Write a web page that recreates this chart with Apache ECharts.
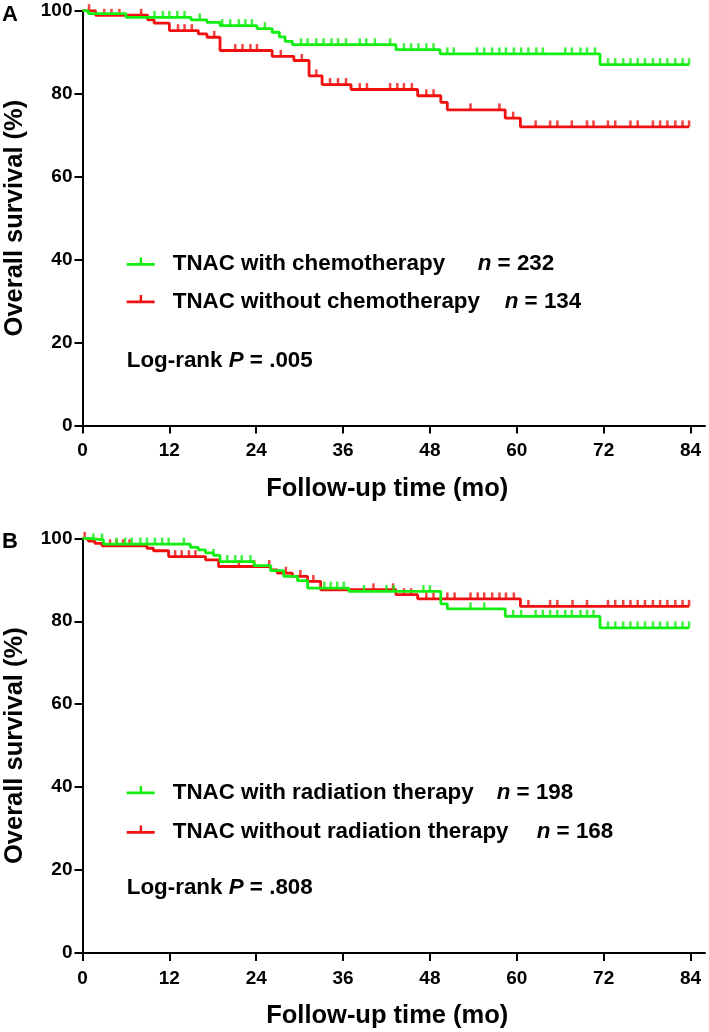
<!DOCTYPE html>
<html><head><meta charset="utf-8">
<script src="https://cdn.jsdelivr.net/npm/echarts@6/dist/echarts.min.js"></script>
<style>html,body{margin:0;padding:0;background:#fff}#c{width:709px;height:1032px}</style>
</head><body><div id="c"></div>
<script>
// ---------- axes ----------
const xTickValues = [0, 12, 24, 36, 48, 60, 72, 84];
const yTickValues = [0, 20, 40, 60, 80, 100];
const xAxisMax = 86;
const xAxisTitle = 'Follow-up time (mo)';
const yAxisTitle = 'Overall survival (%)';
const panelLabels = ['A', 'B'];

// ---------- panel A ----------
const aGreenName = 'TNAC with chemotherapy';
const aGreenN = 232;
const aGreenTimes = [0, 0.8, 6, 15, 17.2, 19, 24.1, 26.2, 27.2, 28, 29, 43.3, 49.4, 71.5];
const aGreenSurv  = [100, 99.3, 98.4, 97.8, 97.2, 96.4, 95.7, 94.8, 93.7, 92.6, 91.8, 90.6, 89.6, 87.0];
const aGreenCensor = [9.95, 11.1, 12.0, 13.1, 14.1, 16.2, 19.3, 20.4, 21.6, 22.5, 23.4, 25.2, 30.2, 31.1, 32.3, 33.3, 34.4, 35.3, 36.4, 38.3, 39.2, 40.4, 42.5, 44.4, 45.4, 46.4, 47.5, 48.5, 50.4, 51.3, 54.5, 55.5, 56.6, 57.6, 58.5, 59.6, 60.6, 61.6, 62.7, 63.6, 66.7, 67.6, 68.8, 69.7, 70.8, 72.6, 73.6, 74.7, 75.7, 76.7, 77.7, 78.8, 79.8, 80.8, 81.9, 82.9, 83.8];

const aRedName = 'TNAC without chemotherapy';
const aRedN = 134;
const aRedTimes = [0, 1.8, 9, 9.9, 12, 16, 17.2, 19, 26.2, 29.2, 31.3, 33.1, 37.1, 46.3, 49.5, 50.4, 58.4, 60.5];
const aRedSurv  = [100, 98.9, 97.8, 97.0, 95.2, 94.4, 93.6, 90.4, 89.0, 88.0, 84.3, 82.2, 81.0, 79.5, 77.9, 76.1, 74.1, 72.0];
const aRedCensor = [0.9, 3.0, 4.0, 5.1, 8.1, 13.2, 14.1, 15.1, 18.2, 21.1, 22.1, 23.2, 24.1, 27.4, 30.3, 32.3, 34.2, 35.3, 36.4, 38.3, 39.3, 42.5, 43.5, 44.4, 45.5, 47.5, 48.5, 53.6, 57.6, 59.5, 62.6, 64.6, 65.6, 67.6, 69.7, 70.6, 72.6, 73.6, 75.7, 76.7, 78.8, 79.8, 80.8, 81.9, 82.9, 83.8];
const aLogRankP = '.005';

// ---------- panel B ----------
const bGreenName = 'TNAC with radiation therapy';
const bGreenN = 198;
const bGreenTimes = [0, 0.8, 2.9, 14.9, 16.0, 17.0, 18.1, 19.0, 23.7, 26.0, 27.8, 29.7, 31.1, 36.8, 49.5, 50.4, 58.4, 71.5];
const bGreenSurv  = [100, 99.6, 98.6, 97.8, 97.2, 96.5, 95.9, 94.4, 93.4, 92.2, 90.8, 89.8, 88.0, 87.2, 84.2, 83.0, 81.2, 78.4];
const bGreenCensor = [1.5, 2.7, 4.7, 5.9, 6.8, 8.0, 8.9, 10.0, 11.0, 11.9, 14.0, 18.1, 20.0, 21.1, 22.0, 23.2, 33.4, 34.3, 35.2, 36.1, 38.9, 42.0, 43.0, 47.1, 48.0, 53.6, 55.5, 59.5, 60.6, 62.6, 63.6, 64.6, 65.6, 66.7, 67.6, 68.8, 69.7, 70.6, 72.6, 73.6, 74.7, 75.7, 76.7, 77.7, 78.8, 79.8, 80.8, 81.9, 82.9, 83.8];

const bRedName = 'TNAC without radiation therapy';
const bRedN = 168;
const bRedTimes = [0, 0.8, 1.7, 2.7, 8.9, 9.8, 11.9, 17.0, 18.8, 26.0, 26.9, 29.0, 31.1, 32.9, 43.3, 46.3, 60.5];
const bRedSurv  = [100, 99.35, 98.8, 98.2, 97.6, 97.0, 95.6, 94.8, 93.2, 92.4, 91.6, 90.8, 89.6, 87.6, 86.4, 85.4, 83.6];
const bRedCensor = [0.3, 3.8, 4.7, 5.6, 6.5, 12.8, 13.7, 14.7, 15.6, 21.6, 23.7, 25.8, 28.1, 30.1, 31.9, 40.2, 42.9, 44.4, 45.4, 47.5, 48.5, 50.4, 51.4, 53.6, 54.6, 55.5, 56.6, 57.6, 58.5, 59.6, 61.6, 64.6, 65.6, 67.7, 69.7, 72.6, 73.6, 74.7, 75.7, 76.7, 77.7, 78.8, 79.8, 80.8, 81.9, 82.9, 83.8];
const bLogRankP = '.808';

// ---------- styling ----------
const GREEN = '#12ee12';
const RED = '#f01010';
const FONT = "'Liberation Sans', Arial, sans-serif";
const LEG_FS = 22.4;

function stepAt(times, surv, t) {
  let v = surv[0];
  for (let i = 0; i < times.length; i++) { if (times[i] <= t) v = surv[i]; }
  return v;
}
function curveData(times, surv, censor) {
  const d = times.map((t, i) => [t, surv[i]]);
  const end = Math.max(times[times.length - 1], censor[censor.length - 1]);
  d.push([end, surv[surv.length - 1]]);
  return d;
}
function censorData(times, surv, censor) {
  return censor.map(t => [t, stepAt(times, surv, t)]);
}

const panels = [
  { curves: [
      { name: aGreenName, n: aGreenN, times: aGreenTimes, surv: aGreenSurv, censor: aGreenCensor, color: GREEN },
      { name: aRedName, n: aRedN, times: aRedTimes, surv: aRedSurv, censor: aRedCensor, color: RED } ],
    p: aLogRankP, top: 10.7, legendTop: 253, legendGap: 15.5, nBox: [305, 332], logTop: 349 },
  { curves: [
      { name: bGreenName, n: bGreenN, times: bGreenTimes, surv: bGreenSurv, censor: bGreenCensor, color: GREEN },
      { name: bRedName, n: bRedN, times: bRedTimes, surv: bRedSurv, censor: bRedCensor, color: RED } ],
    p: bLogRankP, top: 538.3, legendTop: 781.5, legendGap: 17.5, nBox: [324, 364], logTop: 875.5 }
];

const grids = [], xAxes = [], yAxes = [], series = [], legends = [], titles = [];
const GRID_LEFT = 82.5, GRID_W = 622.5, GRID_H = 414.8;

panels.forEach((p, pi) => {
  grids.push({ left: GRID_LEFT, top: p.top, width: GRID_W, height: GRID_H, containLabel: false, outerBoundsMode: 'none' });
  xAxes.push({
    type: 'value', gridIndex: pi, min: 0, max: xAxisMax, interval: 12,
    name: xAxisTitle, nameLocation: 'middle', nameGap: 50, nameMoveOverlap: false,
    nameTextStyle: { fontFamily: FONT, fontWeight: 'bold', fontSize: 25.5, color: '#000', padding: [0, 13, 0, 0] },
    axisLine: { show: true, onZero: false, lineStyle: { color: '#000', width: 2 } },
    axisTick: { show: true, inside: false, length: 8, lineStyle: { color: '#000', width: 2 }, customValues: xTickValues },
    axisLabel: { customValues: xTickValues, margin: 16, fontFamily: FONT, fontWeight: 'bold', fontSize: 19, color: '#000' },
    splitLine: { show: false }
  });
  yAxes.push({
    type: 'value', gridIndex: pi, min: 0, max: 100, interval: 20,
    name: yAxisTitle, nameLocation: 'middle', nameRotate: 90, nameGap: 55, nameMoveOverlap: false,
    nameTextStyle: { fontFamily: FONT, fontWeight: 'bold', fontSize: 25.5, color: '#000' },
    axisLine: { show: true, onZero: false, lineStyle: { color: '#000', width: 2 } },
    axisTick: { show: true, inside: false, length: 8, lineStyle: { color: '#000', width: 2 }, customValues: yTickValues },
    axisLabel: { customValues: yTickValues, margin: 10, fontFamily: FONT, fontWeight: 'bold', fontSize: 19, color: '#000' },
    splitLine: { show: false }
  });
  const rich = {
    s: { width: 13, fontSize: LEG_FS, lineHeight: 24 },
    i: { fontFamily: FONT, fontWeight: 'bold', fontStyle: 'italic', fontSize: LEG_FS, lineHeight: 24, color: '#000' },
    b: { fontFamily: FONT, fontWeight: 'bold', fontSize: LEG_FS, lineHeight: 24, color: '#000' }
  };
  p.curves.forEach((c, ci) => {
    rich['a' + ci] = { fontFamily: FONT, fontWeight: 'bold', fontSize: LEG_FS, lineHeight: 24, color: '#000', width: p.nBox[ci] };
    series.push({
      name: c.name, type: 'line', xAxisIndex: pi, yAxisIndex: pi, step: 'end',
      showSymbol: false, symbol: 'none', silent: true, z: 3 - ci,
      lineStyle: { color: c.color, width: 2.8 }, itemStyle: { color: c.color },
      data: curveData(c.times, c.surv, c.censor)
    });
    series.push({
      name: c.name + ' censored', type: 'scatter', xAxisIndex: pi, yAxisIndex: pi,
      symbol: 'rect', symbolSize: [2.5, 6.5], symbolOffset: [0, -3.2], silent: true, z: 3 - ci,
      itemStyle: { color: c.color },
      data: censorData(c.times, c.surv, c.censor)
    });
  });
  const names = p.curves.map(c => c.name);
  legends.push({
    data: names, orient: 'vertical', left: 126.7, top: p.legendTop, itemGap: p.legendGap,
    padding: 0, selectedMode: false,
    icon: 'path://M0,5.5H28V8.2H0Z M13,0H15.4V5.5H13Z M0,12.9H0.02V13H0Z',
    itemWidth: 28, itemHeight: 13,
    formatter: name => {
      const ci = names.indexOf(name);
      return `{s|}{a${ci}|${name}}{i|n}{b| = ${p.curves[ci].n}}`;
    },
    textStyle: { rich: rich }
  });
  titles.push({
    text: `{a|Log-rank }{i|P}{a| = ${p.p}}`, left: 126.7, top: p.logTop, padding: 0,
    textStyle: { rich: {
      a: { fontFamily: FONT, fontWeight: 'bold', fontSize: LEG_FS, lineHeight: 24, color: '#000' },
      i: { fontFamily: FONT, fontWeight: 'bold', fontStyle: 'italic', fontSize: LEG_FS, lineHeight: 24, color: '#000' } } }
  });
  titles.push({
    text: panelLabels[pi], left: 2, top: p.top - 8, padding: 0,
    textStyle: { fontFamily: FONT, fontWeight: 'bold', fontSize: 22, lineHeight: 24, color: '#000' }
  });
});

const chart = echarts.init(document.getElementById('c'), null, { renderer: 'canvas' });
chart.setOption({
  animation: false, backgroundColor: '#fff',
  title: titles, legend: legends, grid: grids, xAxis: xAxes, yAxis: yAxes, series: series
});
</script></body></html>
